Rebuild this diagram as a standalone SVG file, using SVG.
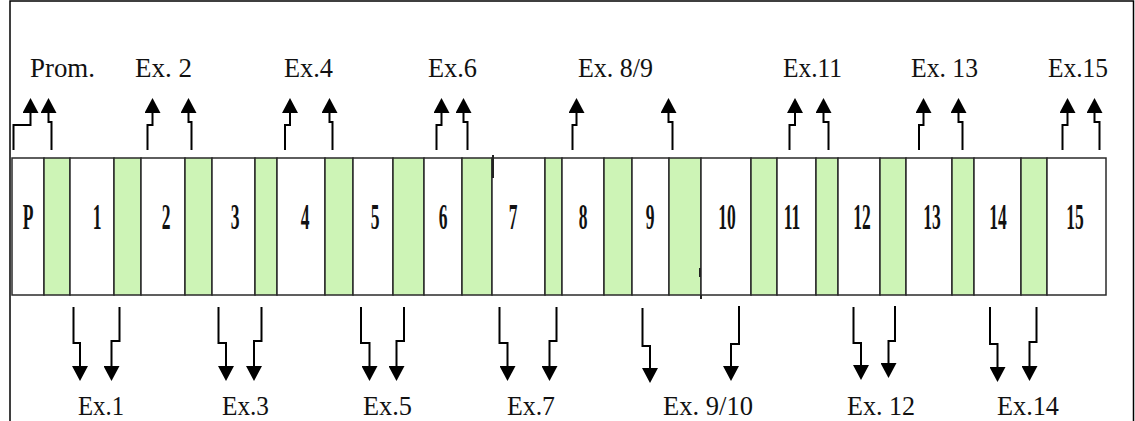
<svg xmlns="http://www.w3.org/2000/svg" width="1135" height="421" viewBox="0 0 1135 421">
<defs>
<style>
.cell{fill:#ffffff;stroke:#2a2a2a;stroke-width:1.5}
.sp{fill:#cdf4b6;stroke:#2a2a2a;stroke-width:1.5}
.num{font-family:"Liberation Serif","Times New Roman",serif;font-weight:bold;font-size:35px;fill:#111;text-anchor:middle}
.lbl{font-family:"Liberation Serif","Times New Roman",serif;font-size:27px;fill:#111}
.arr{fill:none;stroke:#000;stroke-width:2}
</style>
<marker id="ah" markerUnits="userSpaceOnUse" markerWidth="15" markerHeight="16" refX="0" refY="8" orient="auto" viewBox="0 0 15 16">
<path d="M0,0 L15,8 L0,16 Z" fill="#000"/>
</marker>
</defs>
<rect width="1135" height="421" fill="#fff"/>
<path d="M10,421 V1 H1133.5 V421" fill="none" stroke="#000" stroke-width="1.5"/>

<g id="band">
<g id="cell-P"><rect class="cell" x="12" y="158" width="32" height="137"/><text class="num" transform="translate(28,229) scale(0.5,1)">P</text></g>
<g id="sp-0"><rect class="sp" x="44" y="158" width="26" height="137"/></g>
<g id="cell-1"><rect class="cell" x="70" y="158" width="44" height="137"/><text class="num" transform="translate(97,229) scale(0.5,1)">1</text></g>
<g id="sp-1"><rect class="sp" x="114" y="158" width="27" height="137"/></g>
<g id="cell-2"><rect class="cell" x="141" y="158" width="44" height="137"/><text class="num" transform="translate(166,229) scale(0.5,1)">2</text></g>
<g id="sp-2"><rect class="sp" x="185" y="158" width="27" height="137"/></g>
<g id="cell-3"><rect class="cell" x="212" y="158" width="43" height="137"/><text class="num" transform="translate(235,229) scale(0.5,1)">3</text></g>
<g id="sp-3"><rect class="sp" x="255" y="158" width="22" height="137"/></g>
<g id="cell-4"><rect class="cell" x="277" y="158" width="48" height="137"/><text class="num" transform="translate(305,229) scale(0.5,1)">4</text></g>
<g id="sp-4"><rect class="sp" x="325" y="158" width="28" height="137"/></g>
<g id="cell-5"><rect class="cell" x="353" y="158" width="40" height="137"/><text class="num" transform="translate(375,229) scale(0.5,1)">5</text></g>
<g id="sp-5"><rect class="sp" x="393" y="158" width="31" height="137"/></g>
<g id="cell-6"><rect class="cell" x="424" y="158" width="38" height="137"/><text class="num" transform="translate(443,229) scale(0.5,1)">6</text></g>
<g id="sp-6"><rect class="sp" x="462" y="158" width="30" height="137"/></g>
<g id="cell-7"><rect class="cell" x="492" y="158" width="53" height="137"/><text class="num" transform="translate(513,229) scale(0.5,1)">7</text></g>
<g id="sp-7"><rect class="sp" x="545" y="158" width="17" height="137"/></g>
<g id="cell-8"><rect class="cell" x="562" y="158" width="42" height="137"/><text class="num" transform="translate(583,229) scale(0.5,1)">8</text></g>
<g id="sp-8"><rect class="sp" x="604" y="158" width="28" height="137"/></g>
<g id="cell-9"><rect class="cell" x="632" y="158" width="37" height="137"/><text class="num" transform="translate(650,229) scale(0.5,1)">9</text></g>
<g id="sp-9"><rect class="sp" x="669" y="158" width="32" height="137"/></g>
<g id="cell-10"><rect class="cell" x="701" y="158" width="50" height="137"/><text class="num" transform="translate(727,229) scale(0.5,1)">10</text></g>
<g id="sp-10"><rect class="sp" x="751" y="158" width="26" height="137"/></g>
<g id="cell-11"><rect class="cell" x="777" y="158" width="39" height="137"/><text class="num" transform="translate(792,229) scale(0.5,1)">11</text></g>
<g id="sp-11"><rect class="sp" x="816" y="158" width="22" height="137"/></g>
<g id="cell-12"><rect class="cell" x="838" y="158" width="42" height="137"/><text class="num" transform="translate(862,229) scale(0.5,1)">12</text></g>
<g id="sp-12"><rect class="sp" x="880" y="158" width="26" height="137"/></g>
<g id="cell-13"><rect class="cell" x="906" y="158" width="46" height="137"/><text class="num" transform="translate(932,229) scale(0.5,1)">13</text></g>
<g id="sp-13"><rect class="sp" x="952" y="158" width="22" height="137"/></g>
<g id="cell-14"><rect class="cell" x="974" y="158" width="47" height="137"/><text class="num" transform="translate(998,229) scale(0.5,1)">14</text></g>
<g id="sp-14"><rect class="sp" x="1021" y="158" width="26" height="137"/></g>
<g id="cell-15"><rect class="cell" x="1047" y="158" width="59" height="137"/><text class="num" transform="translate(1075,229) scale(0.5,1)">15</text></g>
<path d="M493,155 V178 M700,268 V277 M701,295 V299" stroke="#222" stroke-width="2"/>
</g>

<g id="connectors">
<path class="arr" marker-end="url(#ah)" d="M13.5,150 V125 H30.5 V113"/>
<path class="arr" marker-end="url(#ah)" d="M51.5,150 V122 H48.5 V113"/>
<path class="arr" marker-end="url(#ah)" d="M147.5,150 V125 H152.5 V113"/>
<path class="arr" marker-end="url(#ah)" d="M191.5,150 V122 H188.5 V113"/>
<path class="arr" marker-end="url(#ah)" d="M285,150 V125 H290 V113"/>
<path class="arr" marker-end="url(#ah)" d="M332.5,150 V122 H329.5 V113"/>
<path class="arr" marker-end="url(#ah)" d="M436.5,150 V125 H441.5 V113"/>
<path class="arr" marker-end="url(#ah)" d="M467.5,150 V122 H463.5 V113"/>
<path class="arr" marker-end="url(#ah)" d="M572.5,150 V125 H576.5 V113"/>
<path class="arr" marker-end="url(#ah)" d="M672.5,150 V122 H668.5 V113"/>
<path class="arr" marker-end="url(#ah)" d="M789.5,150 V125 H795 V113"/>
<path class="arr" marker-end="url(#ah)" d="M828.5,150 V122 H823.5 V113"/>
<path class="arr" marker-end="url(#ah)" d="M919,150 V125 H923.5 V113"/>
<path class="arr" marker-end="url(#ah)" d="M962.5,150 V122 H958.5 V113"/>
<path class="arr" marker-end="url(#ah)" d="M1062.5,150 V125 H1067.5 V113"/>
<path class="arr" marker-end="url(#ah)" d="M1099.5,150 V122 H1094.5 V113"/>

<path class="arr" marker-end="url(#ah)" d="M73.5,307 V343 H80 V366"/>
<path class="arr" marker-end="url(#ah)" d="M119.5,307 V341 H111.5 V366"/>
<path class="arr" marker-end="url(#ah)" d="M218.5,307 V343 H226 V366"/>
<path class="arr" marker-end="url(#ah)" d="M261.5,307 V341 H254 V366"/>
<path class="arr" marker-end="url(#ah)" d="M361,307 V343 H369.5 V366"/>
<path class="arr" marker-end="url(#ah)" d="M404,307 V341 H396.5 V366"/>
<path class="arr" marker-end="url(#ah)" d="M499.5,307 V343 H507.5 V366"/>
<path class="arr" marker-end="url(#ah)" d="M556.5,307 V341 H549.5 V366"/>
<path class="arr" marker-end="url(#ah)" d="M642.5,308 V346 H650 V368"/>
<path class="arr" marker-end="url(#ah)" d="M739,306 V344 H731 V366"/>
<path class="arr" marker-end="url(#ah)" d="M853.5,307 V343 H861 V365"/>
<path class="arr" marker-end="url(#ah)" d="M895,306 V341 H888.5 V363"/>
<path class="arr" marker-end="url(#ah)" d="M990,307 V344 H997.5 V367"/>
<path class="arr" marker-end="url(#ah)" d="M1036.5,307 V342 H1029.5 V366"/>
</g>

<g id="labels-top">
<text class="lbl" x="30" y="77" textLength="65" lengthAdjust="spacingAndGlyphs">Prom.</text>
<text class="lbl" x="135" y="77" textLength="57" lengthAdjust="spacingAndGlyphs">Ex. 2</text>
<text class="lbl" x="284" y="77" textLength="49" lengthAdjust="spacingAndGlyphs">Ex.4</text>
<text class="lbl" x="428" y="77" textLength="49" lengthAdjust="spacingAndGlyphs">Ex.6</text>
<text class="lbl" x="578" y="77" textLength="75" lengthAdjust="spacingAndGlyphs">Ex. 8/9</text>
<text class="lbl" x="783" y="77" textLength="59" lengthAdjust="spacingAndGlyphs">Ex.11</text>
<text class="lbl" x="911" y="77" textLength="67" lengthAdjust="spacingAndGlyphs">Ex. 13</text>
<text class="lbl" x="1048" y="77" textLength="60" lengthAdjust="spacingAndGlyphs">Ex.15</text>
</g>
<g id="labels-bottom">
<text class="lbl" x="78" y="415" textLength="46" lengthAdjust="spacingAndGlyphs">Ex.1</text>
<text class="lbl" x="222" y="415" textLength="47" lengthAdjust="spacingAndGlyphs">Ex.3</text>
<text class="lbl" x="363" y="415" textLength="49" lengthAdjust="spacingAndGlyphs">Ex.5</text>
<text class="lbl" x="507" y="415" textLength="48" lengthAdjust="spacingAndGlyphs">Ex.7</text>
<text class="lbl" x="663" y="415" textLength="90" lengthAdjust="spacingAndGlyphs">Ex. 9/10</text>
<text class="lbl" x="847" y="415" textLength="68" lengthAdjust="spacingAndGlyphs">Ex. 12</text>
<text class="lbl" x="997" y="415" textLength="62" lengthAdjust="spacingAndGlyphs">Ex.14</text>
</g>
</svg>
